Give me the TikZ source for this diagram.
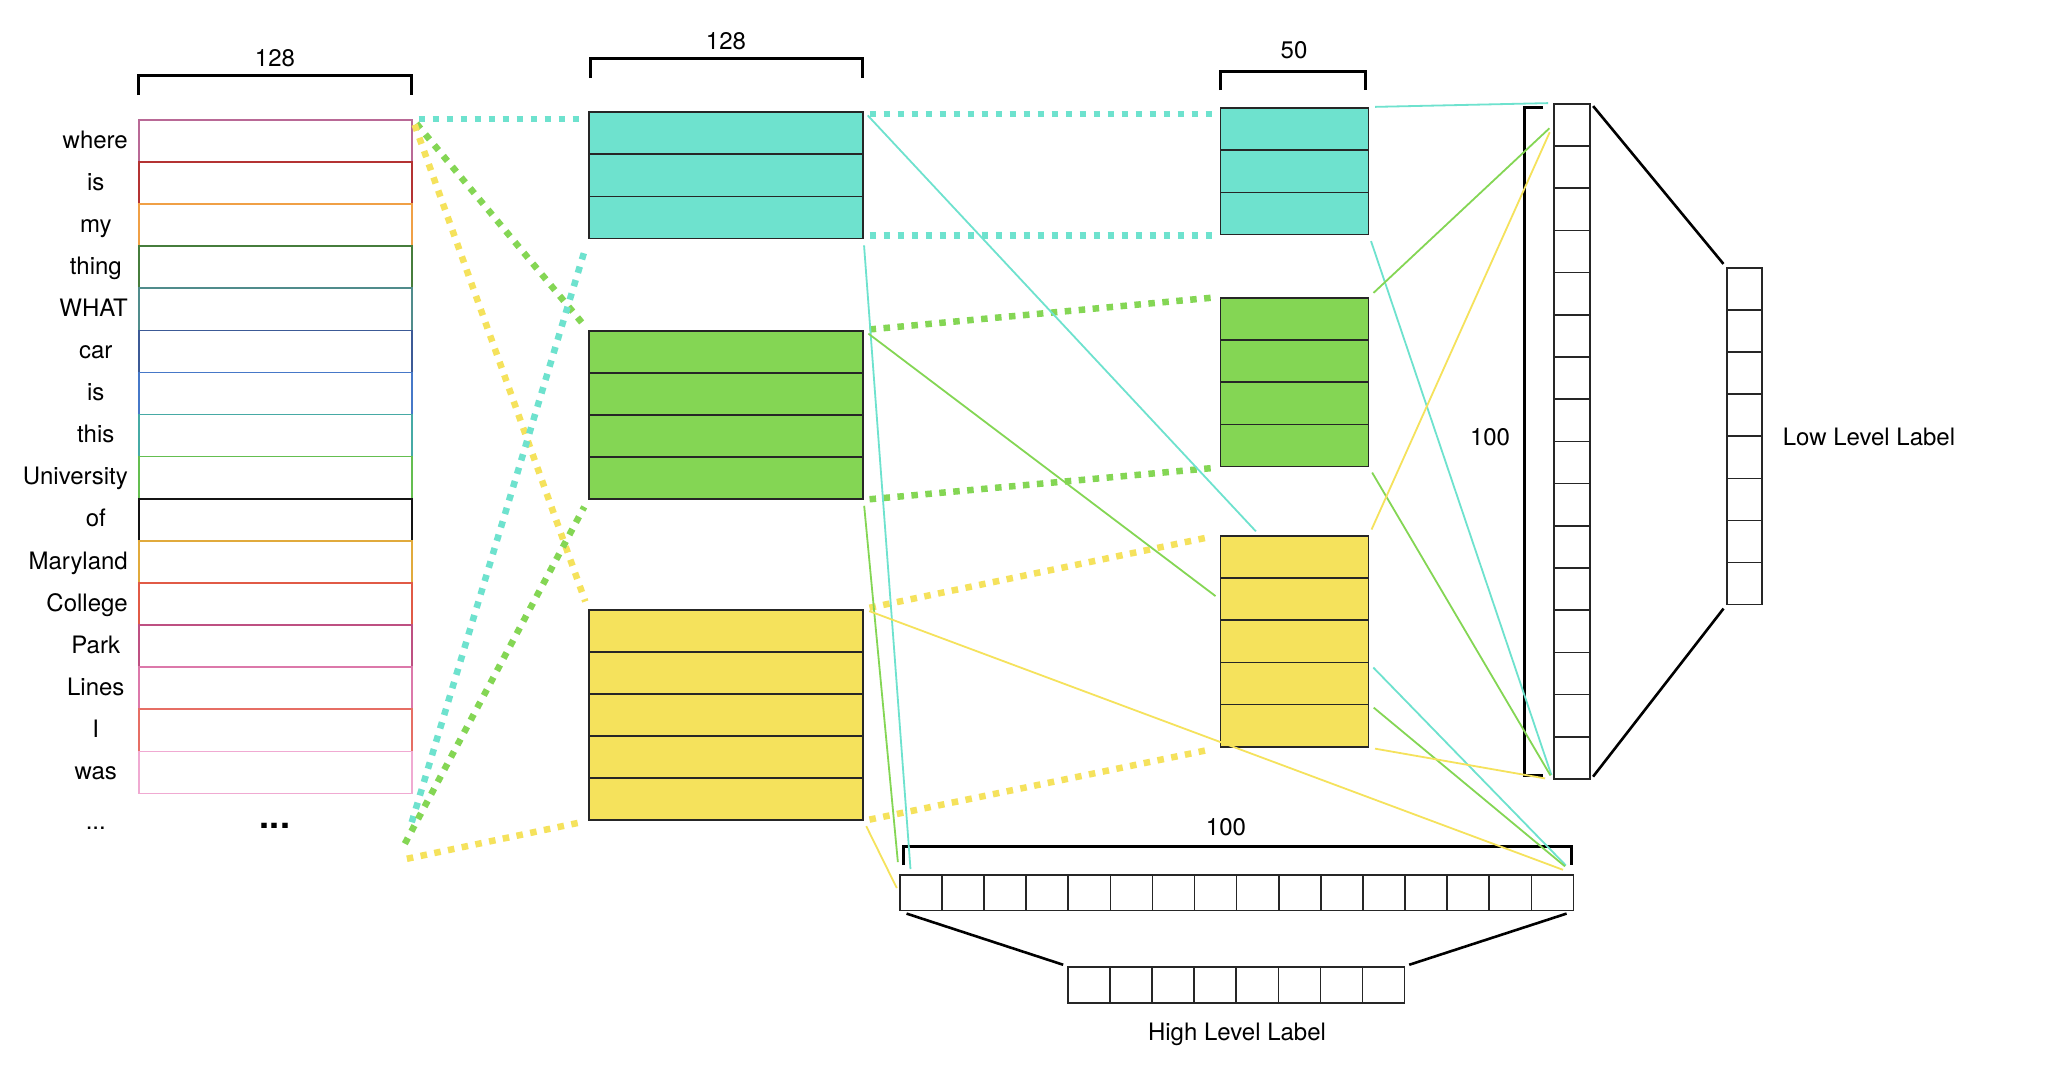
\documentclass[tikz,border=0pt]{standalone}
\usepackage{fontspec}
\setmainfont{TeX Gyre Heros}
\usetikzlibrary{positioning}

\definecolor{cyanfill}{RGB}{110,226,206}
\definecolor{greenfill}{RGB}{132,214,84}
\definecolor{yellowfill}{RGB}{245,226,92}
\definecolor{rc1}{RGB}{185,105,150}
\definecolor{rc2}{RGB}{180,50,50}
\definecolor{rc3}{RGB}{240,160,70}
\definecolor{rc4}{RGB}{70,125,60}
\definecolor{rc5}{RGB}{80,140,140}
\definecolor{rc6}{RGB}{60,90,150}
\definecolor{rc7}{RGB}{70,120,200}
\definecolor{rc8}{RGB}{70,170,165}
\definecolor{rc9}{RGB}{100,190,80}
\definecolor{rc10}{RGB}{20,20,20}
\definecolor{rc11}{RGB}{225,170,60}
\definecolor{rc12}{RGB}{225,90,70}
\definecolor{rc13}{RGB}{190,80,130}
\definecolor{rc14}{RGB}{220,120,170}
\definecolor{rc15}{RGB}{230,110,100}
\definecolor{rc16}{RGB}{240,170,210}

% centred word, pushed out to the left when too wide
\newcommand{\wordlabel}[1]{\hbox to 64pt{\hss#1\hfil}}

\begin{document}
\begin{tikzpicture}[x=1pt,y=-1pt]
	\fill[white] (0,0) rectangle (2048,1080);
	\useasboundingbox (0,0) rectangle (2048,1080);
	
	\tikzstyle{rowbox} = [rectangle,draw=black!85,line width=1.6pt,inner sep=0pt,anchor=north west]
	\tikzstyle{wordcell} = [rowbox,minimum width=273pt,minimum height=42.1pt]
	\tikzstyle{widebox} = [rowbox,minimum width=274pt,minimum height=42.2pt]
	\tikzstyle{narrowbox} = [rowbox,minimum width=148pt,minimum height=42.2pt]
	\tikzstyle{vcell} = [rowbox,fill=white,minimum width=36pt,minimum height=42.2pt]
	\tikzstyle{hcell} = [rowbox,fill=white,minimum width=42.1pt,minimum height=36pt]
	\tikzstyle{lbl} = [inner sep=0pt,text height=20pt,text depth=4pt,font=\fontsize{24}{28}\selectfont]
	\tikzstyle{wlink} = [line width=6.5pt,dash pattern=on 6.5pt off 7.5pt,shorten <=6pt,shorten >=8pt]
	\tikzstyle{link} = [line width=1.8pt,shorten <=6pt,shorten >=5pt]
	\tikzstyle{spread} = [line width=2.6pt,shorten <=4pt,shorten >=4pt]
	\tikzstyle{dim} = [line width=3pt]
	
	% input words
	\foreach \w [count=\i] in {where,is,my,thing,WHAT,car,is,this,University,of,Maryland,College,Park,Lines,I,was} {
		\node[wordcell,draw=rc\i] (w\i) at (138,{119+42.1*(\i-1)}) {};
		\node[lbl,anchor=east] (l\i) at (128,{140+42.1*(\i-1)}) {\wordlabel{\w}};
	}
	\node[lbl,anchor=east] (l17) at (128,821) {\wordlabel{...}};
	\node[inner sep=0pt,font=\fontsize{36}{40}\selectfont\bfseries] (more) at (275,826) {...};
	
	% first layer
	\foreach \i in {1,2,3}
		\node[widebox,fill=cyanfill] (a\i) at (588,{111+42.3*(\i-1)}) {};
	\foreach \i in {1,...,4}
		\node[widebox,fill=greenfill] (b\i) at (588,{330+42*(\i-1)}) {};
	\foreach \i in {1,...,5}
		\node[widebox,fill=yellowfill] (c\i) at (588,{609+42*(\i-1)}) {};
	
	% second layer
	\foreach \i in {1,2,3}
		\node[narrowbox,fill=cyanfill] (p\i) at (1219.5,{107+42.3*(\i-1)}) {};
	\foreach \i in {1,...,4}
		\node[narrowbox,fill=greenfill] (q\i) at (1219.5,{297+42.2*(\i-1)}) {};
	\foreach \i in {1,...,5}
		\node[narrowbox,fill=yellowfill] (r\i) at (1219.5,{535+42.2*(\i-1)}) {};
	
	% outputs
	\foreach \i in {1,...,16}
		\node[vcell] (v\i) at (1553,{103+42.2*(\i-1)}) {};
	\foreach \i in {1,...,8}
		\node[vcell,minimum width=35pt,minimum height=42.1pt] (ll\i) at (1726,{267+42.1*(\i-1)}) {};
	\foreach \i in {1,...,16}
		\node[hcell,minimum height=35.5pt] (h\i) at ({899+42.1*(\i-1)},874) {};
	\foreach \i in {1,...,8}
		\node[hcell] (hl\i) at ({1067+42.1*(\i-1)},966) {};
	
	\node[lbl,right=20pt of ll4.south east] (lowlbl) {Low Level Label};
	\node[lbl,below=17pt of hl4.south east] (highlbl) {High Level Label};
	
	% size brackets
	\draw[dim] (138,95) -- (138,75) -- (411,75) -- (411,95);
	\node[lbl] (dim1) at (275,58) {128};
	\draw[dim] (590,78) -- (590,58) -- (862,58) -- (862,78);
	\node[lbl] (dim2) at (726,41) {128};
	\draw[dim] (1220,90) -- (1220,71) -- (1365,71) -- (1365,90);
	\node[lbl] (dim3) at (1294,50) {50};
	\draw[dim] (1543,107) -- (1524,107) -- (1524,775) -- (1543,775);
	\node[lbl] (dim4) at (1490,437) {100};
	\draw[dim] (903,865) -- (903,846) -- (1571,846) -- (1571,865);
	\node[lbl] (dim5) at (1226,827) {100};
	
	% words to first layer
	\coordinate (cend) at (410,828);
	\coordinate (gend) at (402,849);
	\coordinate (yend) at (401,860);
	\draw[wlink,cyanfill] (w1.north east) -- ([yshift=-8pt]a1.north west);
	\draw[wlink,greenfill] (w1.north east) -- (b1.north west);
	\draw[wlink,yellowfill] (w1.north east) -- (c1.north west);
	\draw[wlink,cyanfill] (cend) -- (a3.south west);
	\draw[wlink,greenfill] (gend) -- (b4.south west);
	\draw[wlink,yellowfill] (yend) -- (c5.south west);
	
	% first layer to second layer
	\draw[wlink,cyanfill] ([yshift=-3pt]a1.north east) -- ([yshift=-7pt]p1.north west);
	\draw[wlink,cyanfill] ([yshift=4pt]a3.south east) -- (p3.south west);
	\draw[wlink,greenfill] (b1.north east) -- (q1.north west);
	\draw[wlink,greenfill] (b4.south east) -- (q4.south west);
	\draw[wlink,yellowfill] (c1.north east) -- (r1.north west);
	\draw[wlink,yellowfill] (c5.south east) -- (r5.south west);
	
	% thin links
	\draw[link,cyanfill] (a1.north east) -- ([xshift=-35pt]r1.north);
	\draw[link,cyanfill] (a3.south east) -- ([xshift=-10pt]h1.north);
	\draw[link,cyanfill] (p1.north east) -- (v1.north west);
	\draw[link,cyanfill] (p3.south east) -- (v16.south west);
	\draw[link,cyanfill,shorten >=12pt] (r3.south east) -- (h16.north east);
	\draw[link,greenfill] (b1.north east) -- (r2.west);
	\draw[link,greenfill,shorten >=12pt] (b4.south east) -- (h1.north west);
	\draw[link,greenfill] (q1.north east) -- (v1.west);
	\draw[link,greenfill] (q4.south east) -- (v16.south west);
	\draw[link,greenfill,shorten >=12pt] (r5.north east) -- (h16.north east);
	\draw[link,yellowfill,shorten >=12pt] (c1.north east) -- (h16.north east);
	\draw[link,yellowfill] (c5.south east) -- (h1.west);
	\draw[link,yellowfill,shorten >=8pt] (r1.north east) -- (v1.west);
	\draw[link,yellowfill,shorten >=8pt] (r5.south east) -- (v16.south west);
	
	% label reductions
	\draw[spread] (v1.north east) -- (ll1.north west);
	\draw[spread] (v16.south east) -- (ll8.south west);
	\draw[spread,shorten <=8pt] (h1.south west) -- (hl1.north west);
	\draw[spread,shorten <=8pt] (h16.south east) -- (hl8.north east);

\end{tikzpicture}
\end{document}
